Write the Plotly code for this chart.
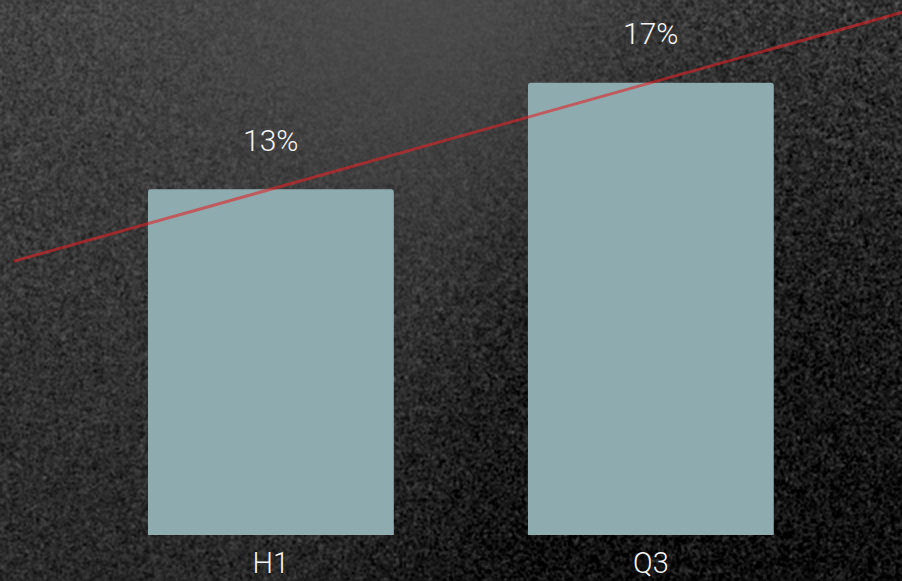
import base64
import struct
import zlib

import numpy as np
import plotly.graph_objects as go

# ---- data ----
categories = ["H1", "Q3"]
values = [13, 17]
labels = ["13%", "17%"]
trend_x = [-0.676, 1.70]

# trend line through the bar tops (linear fit of the data), extended
xpos = list(range(len(categories)))
slope, intercept = np.polyfit(xpos, values, 1)
trend_y = [slope * t + intercept for t in trend_x]

# ---- textured dark background (decoration only) ----
W, H = 902, 581
rng = np.random.default_rng(7)
yy, xx = np.mgrid[0:H, 0:W].astype(float)
base = 66 - 26 * (yy / H)
glow = np.exp(-(((xx - 420) / 260) ** 2 + ((yy - 20) / 230) ** 2))
base += 10 * glow
right = 1 / (1 + np.exp(-((xx - 590 + 0.35 * yy) / 45)))
base -= 26 * right * (0.55 + 0.45 * np.clip(yy / 300, 0, 1))
n = rng.normal(0, 1, (H // 2 + 2, W // 2 + 2))
n = np.repeat(np.repeat(n, 2, axis=0), 2, axis=1)[:H, :W]
k = np.ones(3) / 3
n = np.apply_along_axis(lambda r: np.convolve(r, k, mode="same"), 1, n)
n = np.apply_along_axis(lambda c: np.convolve(c, k, mode="same"), 0, n)
amp = 16 * (1 - 0.8 * glow) + 6 * right
img = np.clip(base + amp * n, 0, 255).astype(np.uint8)


def png_gray(a):
    h, w = a.shape
    raw = b"".join(b"\x00" + a[i].tobytes() for i in range(h))

    def chunk(t, d):
        c = struct.pack(">I", len(d)) + t + d
        return c + struct.pack(">I", zlib.crc32(t + d) & 0xFFFFFFFF)

    return (b"\x89PNG\r\n\x1a\n"
            + chunk(b"IHDR", struct.pack(">IIBBBBB", w, h, 8, 0, 0, 0, 0))
            + chunk(b"IDAT", zlib.compress(raw, 9))
            + chunk(b"IEND", b""))


bg_uri = "data:image/png;base64," + base64.b64encode(png_gray(img)).decode()

FONT = "Roboto"
TXT = dict(family=FONT, size=30, color="#f4f4f4", weight=300)
TICK = dict(family=FONT, size=29, color="#f4f4f4", weight=300)

fig = go.Figure()
fig.add_trace(go.Bar(
    x=xpos, y=values, width=0.647,
    marker=dict(color="#8EACB0", line=dict(width=0)),
    hoverinfo="skip",
))
fig.add_trace(go.Scatter(
    x=trend_x, y=trend_y, mode="lines",
    line=dict(color="rgb(225,36,40)", width=3),
    opacity=0.6, hoverinfo="skip",
))
for i, (v, t) in enumerate(zip(values, labels)):
    fig.add_annotation(x=i, y=v, text=t, showarrow=False, yshift=49, font=TXT)

fig.add_layout_image(dict(
    source=bg_uri, xref="paper", yref="paper", x=0, y=1,
    sizex=1, sizey=H / 535, sizing="stretch", xanchor="left", yanchor="top",
    layer="below",
))

fig.update_layout(
    width=W, height=H,
    margin=dict(l=0, r=0, t=0, b=46),
    paper_bgcolor="#2e2e2e", plot_bgcolor="rgba(0,0,0,0)",
    showlegend=False, barcornerradius=3,
    xaxis=dict(range=[-0.713, 1.661], tickvals=xpos, ticktext=categories,
               showgrid=False, zeroline=False, showline=False, ticks="",
               ticklabelstandoff=8, automargin=False, tickfont=TICK),
    yaxis=dict(range=[0, 20.11], visible=False, showgrid=False, automargin=False),
)

fig.write_html("out.html")
